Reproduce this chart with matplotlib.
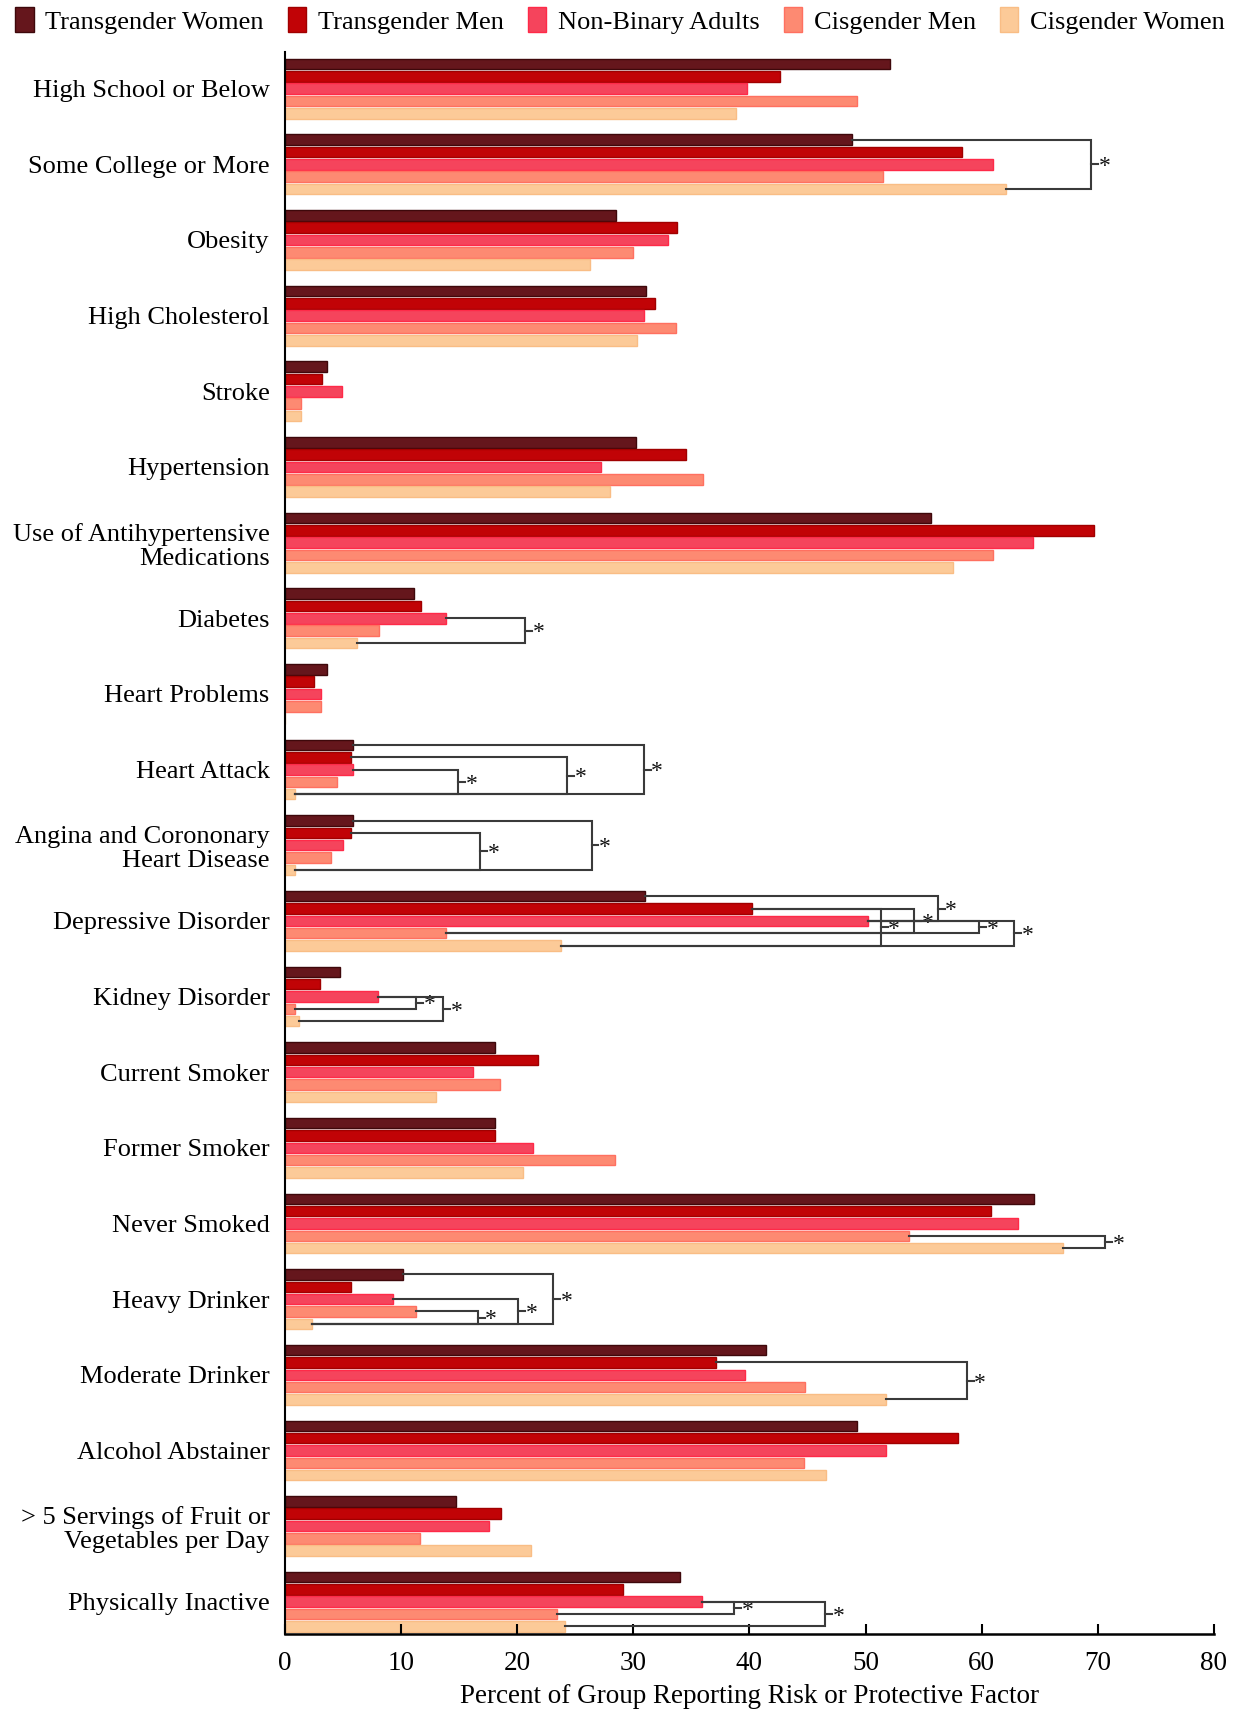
import numpy as np
import matplotlib
matplotlib.use("Agg")
import matplotlib.pyplot as plt
from matplotlib.patches import Patch

plt.rcParams['font.family'] = ['Liberation Serif', 'DejaVu Serif']

# categories, top to bottom
categories = ["High School or Below", "Some College or More", "Obesity", "High Cholesterol",
              "Stroke", "Hypertension", "Use of Antihypertensive\nMedications", "Diabetes",
              "Heart Problems", "Heart Attack", "Angina and Corononary\nHeart Disease",
              "Depressive Disorder", "Kidney Disorder", "Current Smoker", "Former Smoker",
              "Never Smoked", "Heavy Drinker", "Moderate Drinker", "Alcohol Abstainer",
              "> 5 Servings of Fruit or\nVegetables per Day", "Physically Inactive"]

groups = ["Transgender Women", "Transgender Men", "Non-Binary Adults", "Cisgender Men", "Cisgender Women"]

trans_women = [52.1, 48.8, 28.5, 31.1, 3.6, 30.2, 55.6, 11.1, 3.6, 5.85, 5.85, 31.0, 4.7,
               18.1, 18.1, 64.5, 10.2, 41.4, 49.3, 14.7, 34.0]
trans_men = [42.6, 58.3, 33.8, 31.9, 3.2, 34.5, 69.7, 11.7, 2.5, 5.65, 5.65, 40.2, 3.0,
             21.8, 18.1, 60.8, 5.7, 37.1, 58.0, 18.6, 29.1]
non_binary = [39.8, 61.0, 33.0, 30.9, 4.9, 27.2, 64.4, 13.9, 3.1, 5.9, 5.0, 50.2, 8.0,
              16.2, 21.4, 63.1, 9.3, 39.6, 51.8, 17.6, 35.9]
cis_men = [49.3, 51.5, 30.0, 33.7, 1.35, 36.0, 61.0, 8.1, 3.1, 4.5, 4.0, 13.9, 0.9,
           18.5, 28.4, 53.7, 11.25, 44.8, 44.7, 11.6, 23.4]
cis_women = [38.8, 62.1, 26.3, 30.3, 1.35, 28.0, 57.5, 6.2, 0.0, 0.9, 0.9, 23.8, 1.25,
             13.0, 20.5, 67.0, 2.35, 51.8, 46.6, 21.2, 24.1]

# significance brackets: (category index, bar a, bar b, bracket x)
brackets = [(1, 0, 4, 69.4),
            (7, 2, 4, 20.7),
            (9, 2, 4, 14.9), (9, 1, 4, 24.3), (9, 0, 4, 30.9),
            (10, 1, 4, 16.8), (10, 0, 4, 26.4),
            (11, 0, 2, 56.2), (11, 1, 3, 54.2), (11, 1, 4, 51.3), (11, 2, 3, 59.8), (11, 2, 4, 62.8),
            (12, 2, 3, 11.3), (12, 2, 4, 13.6),
            (15, 3, 4, 70.6),
            (16, 3, 4, 16.6), (16, 2, 4, 20.1), (16, 0, 4, 23.1),
            (17, 1, 4, 58.7),
            (20, 2, 3, 38.7), (20, 2, 4, 46.5)]

series = [trans_women, trans_men, non_binary, cis_men, cis_women]
colors = ['#65161c', '#c10306', '#f5445c', '#fd8a72', '#fcca98']
edges = ['#3e080b', '#a00000', '#ff2a48', '#ff7060', '#f9bd85']

fig = plt.figure(figsize=(12.4, 17.09), dpi=100)
ax = fig.add_axes([0.2298, 0.0437, 0.979 - 0.2298, 0.9694 - 0.0437])

y = np.arange(len(categories))
pitch = 0.163
height = 0.14
for k, vals in enumerate(series):
    ax.barh(y + (k - 2) * pitch, vals, height=height, color=colors[k],
            edgecolor=edges[k], linewidth=1.0, label=groups[k])

# brackets
for ci, a, b, xb in brackets:
    ya = ci + (a - 2) * pitch
    yb = ci + (b - 2) * pitch
    xa = series[a][ci]
    xe = series[b][ci]
    ax.plot([xa, xb, xb, xe], [ya, ya, yb, yb], color='#3a3a3a', lw=1.5,
            solid_joinstyle='miter', zorder=3)
    ym = (ya + yb) / 2
    ax.plot([xb, xb + 0.6], [ym, ym], color='#3a3a3a', lw=1.5, zorder=3)
    ax.text(xb + 0.65, ym + 0.03, '*', fontsize=17, ha='left', va='center', color='#111111')

ax.set_yticks(y)
ax.set_yticklabels(categories, fontsize=19, linespacing=1.12)
ax.tick_params(axis='y', length=0, pad=11)
ax.set_ylim(len(categories) - 1 + 0.43, -0.48)

ax.set_xlim(0, 80)
ax.set_xticks(np.arange(0, 81, 10))
ax.tick_params(axis='x', direction='in', length=7, width=1.5, labelsize=19.5, pad=12)
ax.set_xlabel('Percent of Group Reporting Risk or Protective Factor', fontsize=19.5, labelpad=6)

for s in ['top', 'right']:
    ax.spines[s].set_visible(False)
ax.spines['left'].set_linewidth(1.5)
ax.spines['bottom'].set_linewidth(1.8)

handles = [Patch(facecolor=colors[k], edgecolor=edges[k], label=groups[k]) for k in range(5)]
fig.legend(handles=handles, loc='upper center', bbox_to_anchor=(0.5, 1.002), ncol=5,
           frameon=False, fontsize=19, handlelength=0.7, handleheight=1.1,
           handletextpad=0.45, columnspacing=0.9, borderaxespad=0.2, borderpad=0.2)

fig.savefig('out.png', dpi=100)
